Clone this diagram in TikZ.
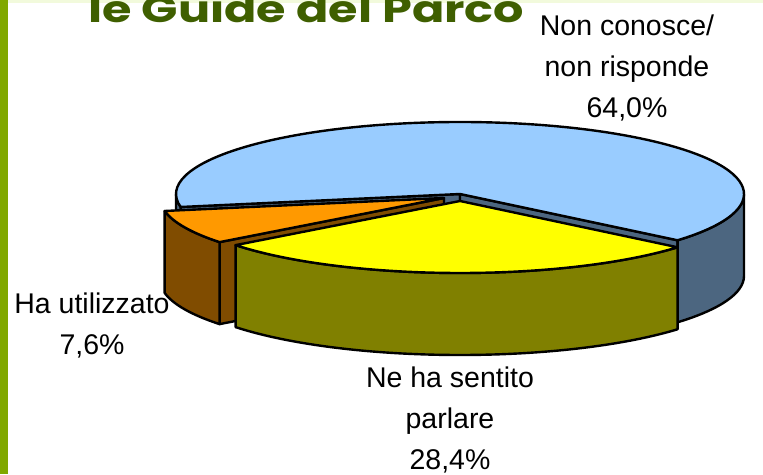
\documentclass[tikz,border=0pt]{standalone}
\usepackage{fontspec}
\setmainfont{Liberation Sans}
\newfontfamily\titlefont{Poppins}
\usetikzlibrary{calc}
\definecolor{barGreen}{HTML}{80A800}
\definecolor{bandGreen}{HTML}{F2FADC}
\definecolor{titleGreen}{HTML}{3F5F00}
\definecolor{skyTop}{HTML}{99CCFF}
\definecolor{skySide}{HTML}{4C6680}
\definecolor{orangeTop}{HTML}{FF9900}
\definecolor{orangeSide}{HTML}{804C00}
\definecolor{yellowTop}{HTML}{FFFF00}
\definecolor{yellowSide}{HTML}{808000}
\tikzset{
  slice/.style={draw=black, line width=2.4pt, line join=round},
  ell/.style={x radius=284, y radius=72},
  lbl/.style={font=\fontsize{28.5}{41}\selectfont, align=center, anchor=base, inner sep=0pt}
}
\begin{document}
\begin{tikzpicture}[x=1pt, y=1pt]
    \useasboundingbox (0,0) rectangle (763,474);
    \fill[barGreen] (0,0) rectangle (7.5,474);
    \fill[bandGreen] (7.5,471) rectangle (763,474);
    \node[anchor=base west, inner sep=0pt, text=titleGreen, font=\titlefont\bfseries\fontsize{37}{37}\selectfont] (title) at (88,451) {\scalebox{1.29}[1]{le Guide del Parco}};

    % centres of the three slices
    \coordinate (c) at (460,280);
    \coordinate (co) at (444,276);
    \coordinate (cy) at (460,273);

    % non conosce
    \filldraw[slice, fill=skySide] (c) -- ($(c)+(190.4:284 and 72)$) -- ++(0,-82) -- ($(c)+(0,-82)$) -- cycle;
    \filldraw[slice, fill=skySide] (c) -- ($(c)+(-40:284 and 72)$) -- ++(0,-82) -- ($(c)+(0,-82)$) -- cycle;
    \filldraw[slice, fill=skySide] (c) ++(-40:284 and 72) arc[start angle=-40, end angle=0, ell] -- ++(0,-82) arc[start angle=0, end angle=-40, ell] -- cycle;
    \filldraw[slice, fill=skySide] (c) ++(180:284 and 72) arc[start angle=180, end angle=190.4, ell] -- ++(0,-82) arc[start angle=190.4, end angle=180, ell] -- cycle;
    \filldraw[slice, fill=skyTop] (c) -- ++(-40:284 and 72) arc[start angle=-40, end angle=190.4, ell] -- cycle;

    % ha utilizzato
    \filldraw[slice, fill=orangeSide] (co) -- ($(co)+(217.8:284 and 72)$) -- ++(0,-82) -- ($(co)+(0,-82)$) -- cycle;
    \filldraw[slice, fill=orangeSide] (co) ++(190.4:284 and 72) arc[start angle=190.4, end angle=217.8, ell] -- ++(0,-82) arc[start angle=217.8, end angle=190.4, ell] -- cycle;
    \filldraw[slice, fill=orangeTop] (co) -- ++(190.4:284 and 72) arc[start angle=190.4, end angle=217.8, ell] -- cycle;

    % ne ha sentito parlare
    \filldraw[slice, fill=yellowSide] (cy) ++(217.8:284 and 72) arc[start angle=217.8, end angle=320, ell] -- ++(0,-82) arc[start angle=320, end angle=217.8, ell] -- cycle;
    \filldraw[slice, fill=yellowTop] (cy) -- ++(217.8:284 and 72) arc[start angle=217.8, end angle=320, ell] -- cycle;

    \node[lbl] (nonconosce) at (627,356) {Non conosce/\\non risponde\\64,0\%};
    \node[lbl] (utilizzato) at (92,119) {Ha utilizzato\\7,6\%};
    \node[lbl] (sentito) at (450,4.5) {Ne ha sentito\\parlare\\28,4\%};
\end{tikzpicture}
\end{document}
